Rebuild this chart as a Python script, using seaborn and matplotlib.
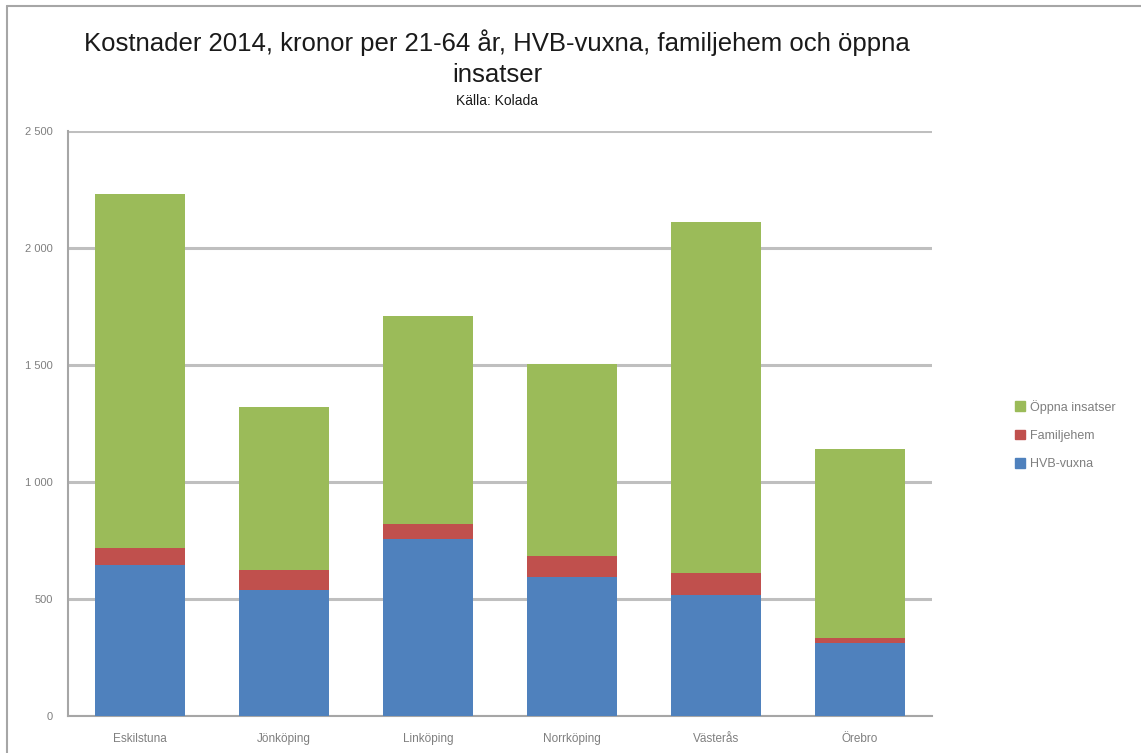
import numpy as np
import pandas as pd
import matplotlib
matplotlib.use('Agg')
import matplotlib.pyplot as plt
import matplotlib.patches as mpatches
from matplotlib.lines import Line2D
from matplotlib.ticker import FuncFormatter
import seaborn as sns

# data (kronor per invånare 21-64 år)
kommuner = ['Eskilstuna', 'Jönköping', 'Linköping', 'Norrköping', 'Västerås', 'Örebro']
hvb_vuxna = [645, 538, 758, 595, 519, 313]
familjehem = [72, 86, 62, 89, 91, 20]
oppna_insatser = [1514, 698, 891, 822, 1502, 810]

series_names = ['Öppna insatser', 'Familjehem', 'HVB-vuxna']
colors = {'HVB-vuxna': '#4F81BD', 'Familjehem': '#C0504D', 'Öppna insatser': '#9BBB59'}

df = pd.DataFrame({'kommun': kommuner, 'HVB-vuxna': hvb_vuxna,
                   'Familjehem': familjehem, 'Öppna insatser': oppna_insatser})
# cumulative heights so the bars can be drawn on top of each other
df['top_fam'] = df['HVB-vuxna'] + df['Familjehem']
df['top_all'] = df['top_fam'] + df['Öppna insatser']

sns.set_style('white')
plt.rcParams['font.family'] = ['Liberation Sans', 'DejaVu Sans']

fig = plt.figure(figsize=(11.41, 7.53), dpi=100)
ax = fig.add_axes([68 / 1141, 37 / 753, 864 / 1141, 585 / 753])

for col, key in [('top_all', 'Öppna insatser'), ('top_fam', 'Familjehem'), ('HVB-vuxna', 'HVB-vuxna')]:
    sns.barplot(data=df, x='kommun', y=col, color=colors[key], width=0.63,
                saturation=1, linewidth=0, ax=ax, zorder=3)

ax.set_ylim(0, 2500)
ax.set_xlim(-0.5, 5.5)
ax.set_yticks(np.arange(0, 2501, 500))
ax.yaxis.set_major_formatter(FuncFormatter(lambda v, p: f'{int(v):,}'.replace(',', ' ')))
ax.grid(axis='y', color='#BFBFBF', linewidth=2.2, zorder=0)
ax.set_axisbelow(True)
ax.set_xlabel('')
ax.set_ylabel('')

for side in ['top', 'right']:
    ax.spines[side].set_visible(False)
ax.spines['left'].set_color('#A6A6A6')
ax.spines['left'].set_linewidth(1.5)
ax.spines['bottom'].set_color('#A6A6A6')
ax.spines['bottom'].set_linewidth(1.5)
ax.tick_params(axis='y', length=0, pad=11, labelsize=8, labelcolor='#7F7F7F')
ax.tick_params(axis='x', length=0, pad=12, labelsize=8.5, labelcolor='#7F7F7F')

# titles
fig.text(497 / 1141, 1 - 43 / 753, 'Kostnader 2014, kronor per 21-64 år, HVB-vuxna, familjehem och öppna',
         ha='center', va='center', fontsize=18.5, color='#1a1a1a')
fig.text(497 / 1141, 1 - 75 / 753, 'insatser', ha='center', va='center', fontsize=18.5, color='#1a1a1a')
fig.text(497 / 1141, 1 - 101 / 753, 'Källa: Kolada', ha='center', va='center', fontsize=10, color='#1a1a1a')

# legend
handles = [mpatches.Patch(color=colors[n], label=n) for n in series_names]
leg = fig.legend(handles=handles, loc='center left', bbox_to_anchor=(1004 / 1141, 1 - 435 / 753),
                 frameon=False, fontsize=9, handlelength=0.8, handleheight=0.8,
                 handletextpad=0.4, labelspacing=1.3)
for t in leg.get_texts():
    t.set_color('#7F7F7F')

# outer chart frame (cropped on right/bottom)
fig.add_artist(Line2D([7 / 1141, 7 / 1141], [0, 1 - 6 / 753], color='#A6A6A6', linewidth=1.5))
fig.add_artist(Line2D([7 / 1141, 1], [1 - 6 / 753, 1 - 6 / 753], color='#A6A6A6', linewidth=1.5))

fig.savefig('out.png', dpi=100)
